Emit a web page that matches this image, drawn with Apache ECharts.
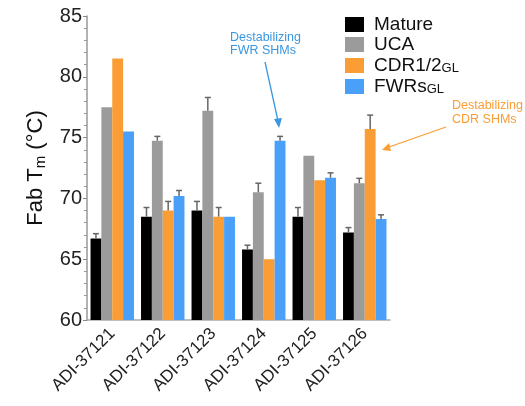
<!DOCTYPE html>
<html lang="en">
  <head>
    <meta charset="UTF-8" />
    <title>Fab Tm</title>
    <style>
      body { margin: 0; background: #fff; }
      #main { width: 525px; height: 406px; }
    </style>
  </head>
  <body>
    <div id="main"></div>
    <script src="https://cdn.jsdelivr.net/npm/echarts@6/dist/echarts.min.js"></script>
    <script>
      const categories = ['ADI-37121', 'ADI-37122', 'ADI-37123', 'ADI-37124', 'ADI-37125', 'ADI-37126']
      const seriesNames = ['Mature', 'UCA', 'CDR1/2GL', 'FWRsGL']
      const mature = [66.7, 68.5, 69.0, 65.8, 68.5, 67.2]
      const uca = [77.5, 74.75, 77.2, 70.5, 73.5, 71.25]
      const cdrGL = [81.5, 69.0, 68.5, 65.0, 71.5, 75.7]
      const fwrGL = [75.5, 70.2, 68.5, 74.75, 71.7, 68.3]
      // upper error (one-sided)
      const matureErr = [0.4, 0.75, 0.75, 0.35, 0.75, 0.4]
      const ucaErr = [0, 0.35, 1.1, 0.75, 0, 0.4]
      const cdrErr = [0, 0.75, 0.75, 0, 0, 1.15]
      const fwrErr = [0, 0.45, 0, 0.35, 0.4, 0.35]
      const yTicks = [60, 65, 70, 75, 80, 85]

      const colors = ['#000000', '#9b9b9b', '#fb9d35', '#4a9ff8']
      const values = [mature, uca, cdrGL, fwrGL]
      const errs = [matureErr, ucaErr, cdrErr, fwrErr]
      const catGap = 0.14

      const chart = echarts.init(document.getElementById('main'))

      const bars = values.map((v, i) => ({
        name: seriesNames[i],
        type: 'bar',
        data: v,
        barGap: '0%',
        barCategoryGap: '14%',
        itemStyle: { color: colors[i] },
        z: 2
      }))

      const errSeries = values.map((v, i) => ({
        type: 'custom',
        name: 'err' + i,
        data: v.map((val, k) => [k, val, val + errs[i][k]]),
        z: 3,
        renderItem: function (params, api) {
          if (api.value(2) - api.value(1) <= 0) return
          const catW = api.size([1, 0])[0]
          const bw = (catW * (1 - catGap)) / 4
          const base = api.coord([api.value(0), api.value(1)])
          const top = api.coord([api.value(0), api.value(2)])
          const x = base[0] + (i - 1.5) * bw
          const style = { stroke: '#666', lineWidth: 1.5 }
          return {
            type: 'group',
            children: [
              { type: 'line', shape: { x1: x, y1: base[1], x2: x, y2: top[1] }, style: style },
              { type: 'line', shape: { x1: x - 3, y1: top[1], x2: x + 3, y2: top[1] }, style: style }
            ]
          }
        }
      }))

      const option = {
        animation: false,
        textStyle: { fontFamily: 'Liberation Sans, Arial, sans-serif' },
        grid: { left: 87, top: 16, width: 303, height: 304 },
        legend: {
          data: seriesNames,
          orient: 'vertical',
          left: 340,
          top: 10,
          itemWidth: 19,
          itemHeight: 15,
          itemGap: 1,
          icon: 'rect',
          textStyle: {
            fontSize: 19,
            lineHeight: 19,
            color: '#111',
            padding: [0, 0, 0, 5],
            rich: { sub: { fontSize: 13, lineHeight: 19, verticalAlign: 'bottom', padding: [7, 0, 0, 0], color: '#111' } }
          },
          formatter: function (name) {
            if (name.endsWith('GL')) return name.slice(0, -2) + '{sub|GL}'
            return name
          }
        },
        xAxis: {
          type: 'category',
          data: categories,
          axisLine: { lineStyle: { color: '#aaa', width: 1.5 } },
          axisTick: { alignWithLabel: true, length: 4, lineStyle: { color: '#888' } },
          axisLabel: { rotate: 45, fontSize: 17, color: '#222', margin: 11 }
        },
        yAxis: {
          type: 'value',
          min: yTicks[0],
          max: yTicks[yTicks.length - 1],
          interval: 5,
          name: 'Fab T{sub|m} (°C)',
          nameLocation: 'middle',
          nameGap: 37,
          nameTextStyle: {
            fontSize: 22,
            color: '#111',
            rich: { sub: { fontSize: 15, padding: [11, 0, 0, 0], color: '#111' } }
          },
          axisLine: { show: true, lineStyle: { color: '#999', width: 1.5 } },
          axisTick: { show: true, length: 4, lineStyle: { color: '#888' } },
          minorTick: { show: true, splitNumber: 5, length: 3, lineStyle: { color: '#999' } },
          splitLine: { show: false },
          axisLabel: { fontSize: 20, color: '#222', margin: 5 }
        },
        graphic: [
          {
            type: 'text',
            left: 230,
            top: 31,
            style: {
              text: 'Destabilizing\nFWR SHMs',
              fill: '#3a97e0',
              fontSize: 12.5,
              lineHeight: 13,
              fontFamily: 'Liberation Sans, Arial, sans-serif'
            }
          },
          {
            type: 'line',
            shape: { x1: 265, y1: 62, x2: 278, y2: 121 },
            style: { stroke: '#3a97e0', lineWidth: 1.3 }
          },
          {
            type: 'polygon',
            shape: { points: [[279, 128], [274, 119], [282, 118]] },
            style: { fill: '#3a97e0' }
          },
          {
            type: 'text',
            left: 452,
            top: 99,
            style: {
              text: 'Destabilizing\nCDR SHMs',
              fill: '#fb9d35',
              fontSize: 12.5,
              lineHeight: 14,
              fontFamily: 'Liberation Sans, Arial, sans-serif'
            }
          },
          {
            type: 'line',
            shape: { x1: 446, y1: 127, x2: 389, y2: 147 },
            style: { stroke: '#fb9d35', lineWidth: 1.3 }
          },
          {
            type: 'polygon',
            shape: { points: [[382, 150], [389, 143], [391, 151]] },
            style: { fill: '#fb9d35' }
          }
        ],
        series: bars.concat(errSeries)
      }

      chart.setOption(option)
    </script>
  </body>
</html>
